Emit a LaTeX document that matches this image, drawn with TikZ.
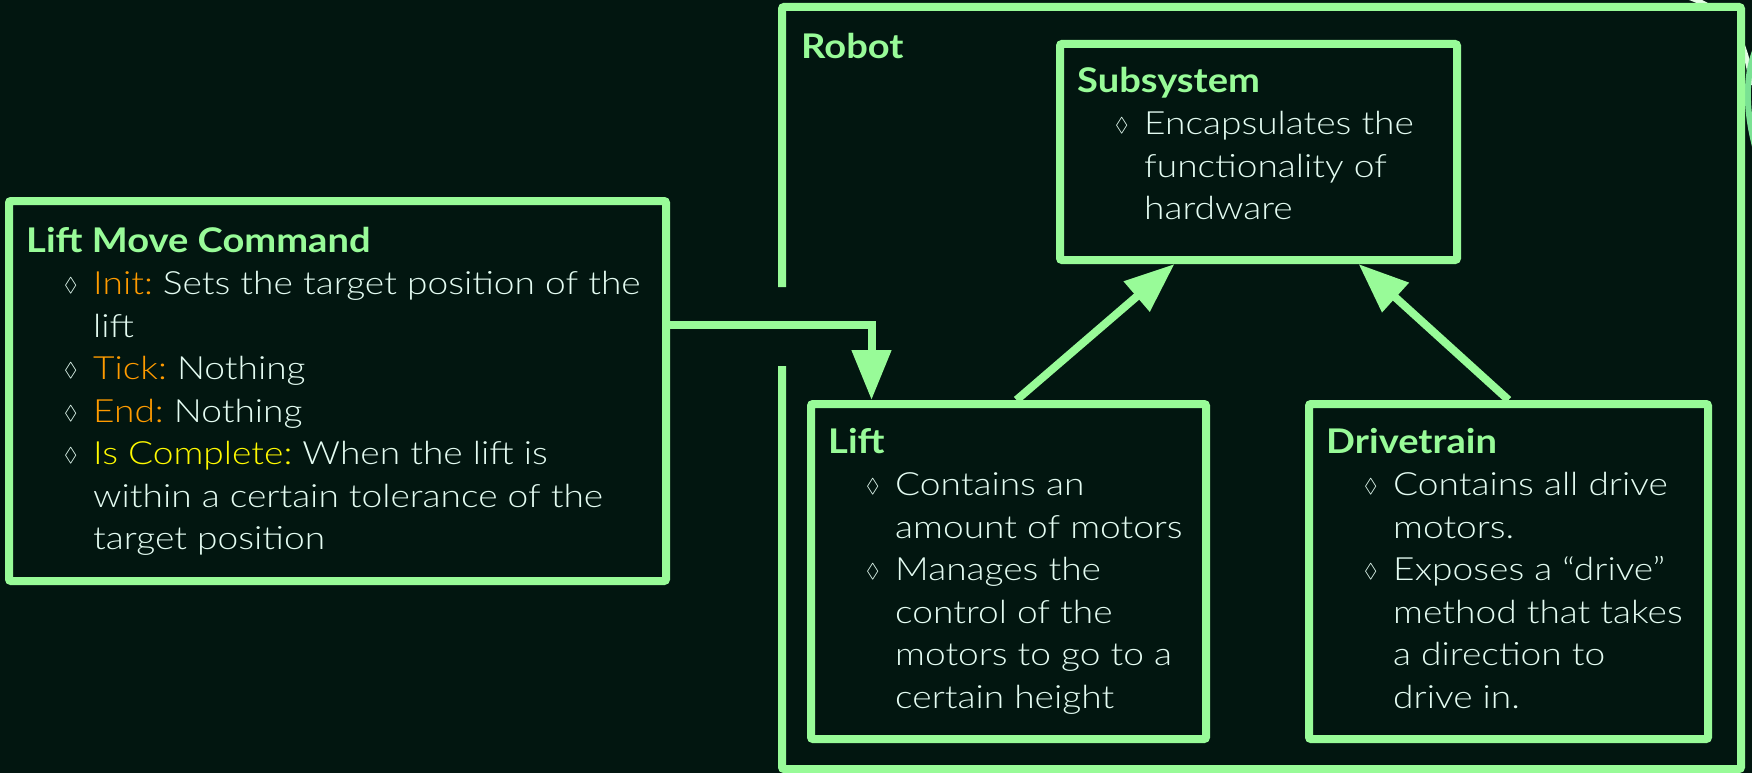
\documentclass[tikz,border=0pt]{standalone}
\usepackage{fontspec}
\setmainfont{Lato}[UprightFont=* Light,BoldFont=* Bold,UprightFeatures={FakeStretch=1.16},BoldFeatures={FakeStretch=1.12}]
\usepackage{amssymb}
\usetikzlibrary{arrows.meta}

\definecolor{bgdark}{RGB}{2,22,16}
\definecolor{boxgreen}{RGB}{152,251,152}
\definecolor{txtwhite}{RGB}{228,252,242}
\definecolor{lblorange}{RGB}{255,155,0}
\definecolor{lblyellow}{RGB}{255,250,0}

\frenchspacing
\newcommand{\boxtitle}[1]{\rule{0pt}{30pt}{\bfseries\fontsize{34}{42.5}\selectfont\color{boxgreen}#1}}
\newcommand{\lzbullet}{\hspace*{38pt}\makebox[29pt][l]{\raisebox{3pt}{\fontsize{20}{20}\selectfont$\lozenge$}}}
\newcommand{\contline}{\hspace*{67pt}}
\newcommand{\keyword}[2]{{\color{#1}#2}}

\begin{document}
\begin{tikzpicture}[x=1pt,y=-1pt,
  box/.style={draw=boxgreen,line width=8pt,fill=bgdark,rounded corners=2pt,inner sep=0pt},
  arr/.style={draw=boxgreen,line width=8pt,-{Triangle[width=38pt,length=50pt]}},
  txt/.style={anchor=north west,inner sep=0pt,align=left,text=txtwhite,font=\fontsize{32}{42.5}\selectfont}]
\useasboundingbox (0,0) rectangle (1752,773);
\fill[bgdark] (0,0) rectangle (1752,773);

% curves peeking out at the top right
\draw[line width=5pt,white!75!boxgreen] (1688,-3) .. controls (1740,15) and (1746,50) .. (1752,85);
\draw[line width=6pt,boxgreen!80!teal] (1760,40) .. controls (1744,70) and (1745,110) .. (1756,150);

% robot frame, open where the command comes in
\fill[bgdark] (782,7) rectangle (1741,769);
\draw[boxgreen,line width=8pt,rounded corners=2pt] (782,287) -- (782,7) -- (1741,7) -- (1741,769) -- (782,769) -- (782,366);
\node[anchor=base west,inner sep=0pt,text=boxgreen,font=\bfseries\fontsize{34}{42}\selectfont] (robot) at (801,59) {Robot};

\node[box,minimum width=657pt,minimum height=380pt] (lmc) at (337.5,391) {};
\node[box,minimum width=397pt,minimum height=216pt] (subsys) at (1258.5,152) {};
\node[box,minimum width=395pt,minimum height=335pt] (lift) at (1008.5,571.5) {};
\node[box,minimum width=399pt,minimum height=335pt] (drive) at (1508.5,571.5) {};

\node[txt] (lmctext) at ([shift={(21pt,-25pt)}]lmc.north west) {\boxtitle{Lift Move Command}\\
\lzbullet\keyword{lblorange}{Init:} Sets the target position of the\\
\contline lift\\
\lzbullet\keyword{lblorange}{Tick:} Nothing\\
\lzbullet\keyword{lblorange}{End:} Nothing\\
\lzbullet\keyword{lblyellow}{Is Complete:} When the lift is\\
\contline within a certain tolerance of the\\
\contline target position};
\node[txt] (subsystext) at ([shift={(21pt,-22pt)}]subsys.north west) {\boxtitle{Subsystem}\\
\lzbullet Encapsulates the\\
\contline functionality of\\
\contline hardware};
\node[txt] (lifttext) at ([shift={(21pt,-23pt)}]lift.north west) {\boxtitle{Lift}\\
\lzbullet Contains an\\
\contline amount of motors\\
\lzbullet Manages the\\
\contline control of the\\
\contline motors to go to a\\
\contline certain height};
\node[txt] (drivetext) at ([shift={(21pt,-23pt)}]drive.north west) {\boxtitle{Drivetrain}\\
\lzbullet Contains all drive\\
\contline motors.\\
\lzbullet Exposes a “drive”\\
\contline method that takes\\
\contline a direction to\\
\contline drive in.};

\draw[arr] ([yshift=66pt]lmc.east) -| ([xshift=-137pt]lift.north);
\draw[arr] ([xshift=8pt]lift.north) -- ([xshift=-84pt]subsys.south);
\draw[arr] (drive.north) -- ([xshift=100pt]subsys.south);
\end{tikzpicture}
\end{document}
